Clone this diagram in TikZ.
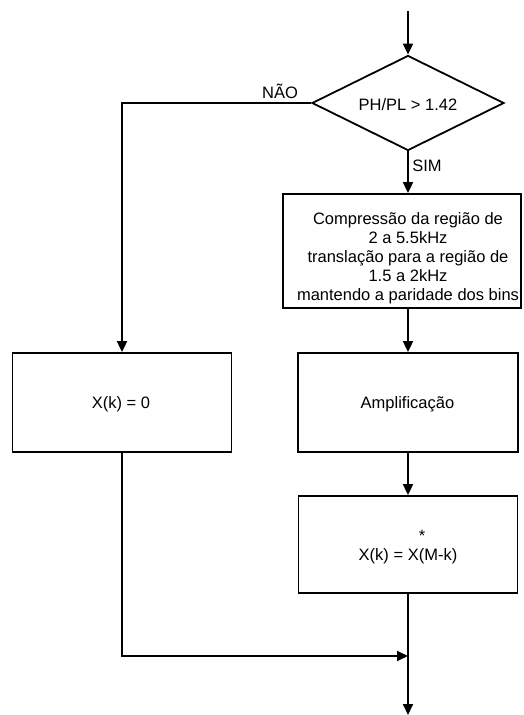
\documentclass[tikz,border=0pt]{standalone}
\usepackage{fontspec}
\setmainfont{Liberation Sans}
\usetikzlibrary{shapes.geometric,arrows.meta}
\begin{document}
\begin{tikzpicture}[x=1pt,y=-1pt,
  line width=1.8pt,
  box/.style={draw, line width=1.8pt, inner sep=0pt},
  txt/.style={font=\fontsize{16.5}{19}\selectfont, align=center, inner sep=0pt},
  arr/.style={-{Triangle[length=11pt,width=10pt]}}]
\useasboundingbox (0,0) rectangle (523,715);
\coordinate (top) at (408,11);
\node[diamond, draw, minimum width=192pt, minimum height=95pt, inner sep=0pt] (d) at (408,103) {};
\node[txt] (dt) at (408,105) {PH/PL > 1.42};
\node[box, minimum width=238pt, minimum height=114pt] (c) at (402,251) {};
\node[txt] (ct) at (408,258) {Compressão da região de\\2 a 5.5kHz\\translação para a região de\\1.5 a 2kHz\\mantendo a paridade dos bins};
\node[box, minimum width=219pt, minimum height=99pt] (z) at (122,402.5) {};
\node[txt] (zt) at (121,404) {X(k) = 0};
\node[box, minimum width=220pt, minimum height=99pt] (a) at (408,402.5) {};
\node[txt] (at) at (407.5,404) {Amplificação};
\node[box, minimum width=219pt, minimum height=97pt] (x) at (408,544.5) {};
\node[txt] (xt) at (408,547) {\hspace*{28pt}*\\X(k) = X(M-k)};
\node[txt] (nao) at (280,91) {NÃO};
\node[txt] (sim) at (427,166) {SIM};
\coordinate (m) at (408,656);
\coordinate (bot) at (408,715);
\draw[arr] (top) -- (d.north);
\draw[arr] (d.south) -- (d.south |- c.north);
\draw[arr] (d.west) -| (z.north);
\draw[arr] (a.north |- c.south) -- (a.north);
\draw[arr] (a.south) -- (a.south |- x.north);
\draw[arr] (z.south) |- (m);
\draw[arr] (x.south) -- (bot);
\end{tikzpicture}
\end{document}
